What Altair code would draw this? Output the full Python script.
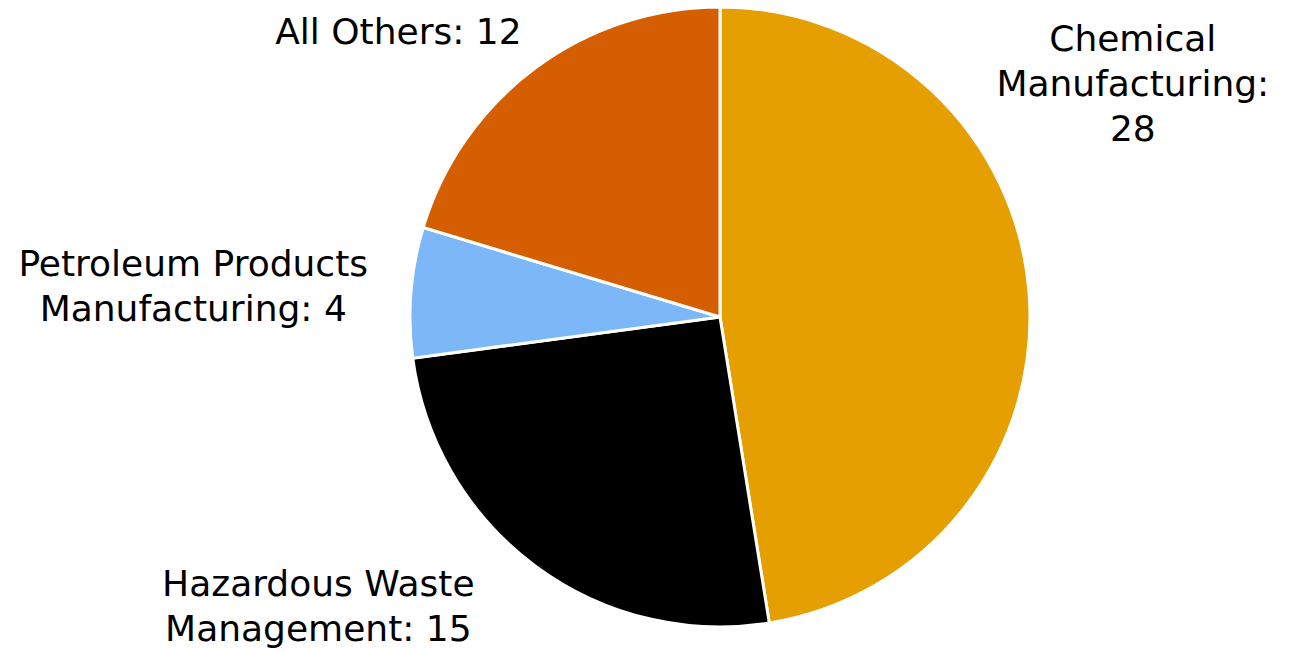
import altair as alt
import pandas as pd

categories = ["Chemical Manufacturing", "Hazardous Waste Management",
              "Petroleum Products Manufacturing", "All Others"]
values = [28, 15, 4, 12]
label_text = ["Chemical\nManufacturing:\n28", "Hazardous Waste\nManagement: 15",
              "Petroleum Products\nManufacturing: 4", "All Others: 12"]
colors = ["#E69F00", "#000000", "#7CB8F8", "#D55E00"]

df = pd.DataFrame({"category": categories, "value": values,
                   "label": label_text, "order": list(range(len(categories)))})

cx, cy, R = 720, 317, 310

base = alt.Chart(df).encode(
    theta=alt.Theta("value:Q", stack=True),
    order=alt.Order("order:Q"),
)

pie = base.mark_arc(outerRadius=R, stroke="white", strokeWidth=3).encode(
    x=alt.value(cx), y=alt.value(cy),
    color=alt.Color("category:N", scale=alt.Scale(domain=categories, range=colors),
                    legend=None),
)

offsets = {
    "Chemical Manufacturing": (34, -247),
    "Hazardous Waste Management": (-175, -37),
    "Petroleum Products Manufacturing": (-148, -22),
    "All Others": (-95, 21),
}

layers = [pie]
for cat in categories:
    dx, dy = offsets[cat]
    layers.append(
        base.mark_text(radius=380, fontSize=36, font="DejaVu Sans", lineBreak="\n",
                       lineHeight=45, align="center", baseline="middle",
                       dx=dx, dy=dy, color="black").encode(
            x=alt.value(cx), y=alt.value(cy),
            text="label:N",
            opacity=alt.condition(alt.datum.category == cat, alt.value(1), alt.value(0)),
        )
    )

chart = alt.layer(*layers).properties(
    width=1297, height=652, padding=0, autosize="none"
).configure_view(stroke=None)

chart.save("out.html", embed_options={"renderer": "svg", "actions": False})
